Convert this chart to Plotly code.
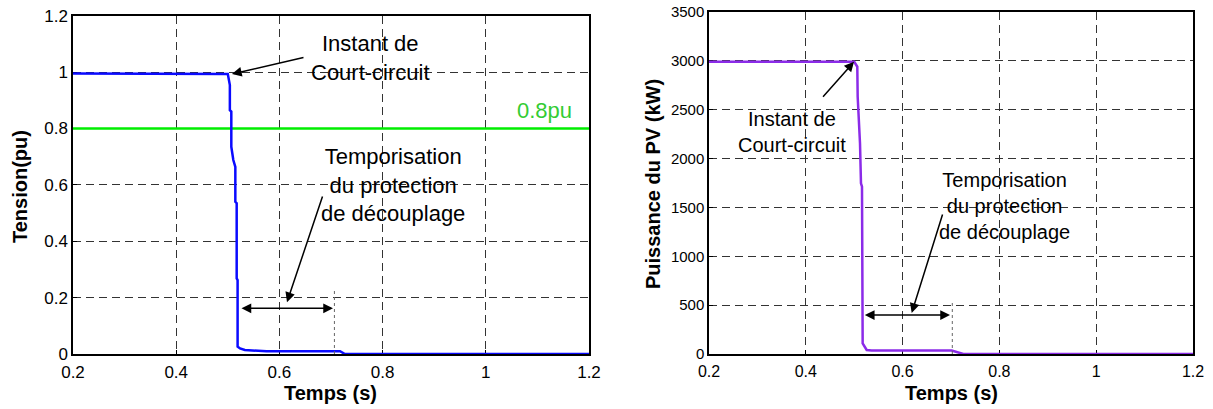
import plotly.graph_objects as go

# ---- data ----
t_v = [0.2, 0.5, 0.504, 0.504, 0.5068, 0.5068, 0.5107, 0.5146, 0.5146, 0.5172, 0.5172,
       0.519, 0.519, 0.5236, 0.533, 0.575, 0.7175, 0.727, 1.2]
tension = [0.995, 0.993, 0.954, 0.865, 0.86, 0.735, 0.688, 0.664, 0.54, 0.535, 0.268,
           0.262, 0.026, 0.020, 0.014, 0.010, 0.010, 0.0, 0.0]

seuil_t = [0.2, 1.2]
seuil_v = [0.8, 0.8]

t_p = [0.2, 0.5, 0.5064, 0.5072, 0.512, 0.514, 0.5161, 0.5175, 0.5258, 0.536,
       0.7014, 0.71, 0.7255, 1.2]
puissance = [2990, 2990, 2940, 2632, 2155, 1746, 1712, 109, 41, 35,
             35, 20, 0, 0]

x_ticks = [0.2, 0.4, 0.6, 0.8, 1.0, 1.2]
x_ticklabels = ["0.2", "0.4", "0.6", "0.8", "1", "1.2"]
v_ticks = [0, 0.2, 0.4, 0.6, 0.8, 1.0, 1.2]
v_ticklabels = ["0", "0.2", "0.4", "0.6", "0.8", "1", "1.2"]
p_ticks = [0, 500, 1000, 1500, 2000, 2500, 3000, 3500]
p_ticklabels = [str(v) for v in p_ticks]

W, H = 1213, 409
FONT = "Arial, Liberation Sans, sans-serif"

def px_x(p):
    return p / W

def px_y(p):
    return 1 - p / H

fig = go.Figure()
fig.add_trace(go.Scatter(x=seuil_t, y=seuil_v, mode="lines", line=dict(color="#00ee00", width=2.5),
                         xaxis="x", yaxis="y", showlegend=False))
fig.add_trace(go.Scatter(x=t_v, y=tension, mode="lines", line=dict(color="#0a0aff", width=2.5),
                         xaxis="x", yaxis="y", showlegend=False))
fig.add_trace(go.Scatter(x=t_p, y=puissance, mode="lines", line=dict(color="#8b2be8", width=2.5),
                         xaxis="x2", yaxis="y2", showlegend=False))

axcommon = dict(showline=True, mirror=True, linecolor="black", linewidth=1.5,
                showgrid=True, gridcolor="#333", gridwidth=1, griddash="8px,5px",
                zeroline=False, ticks="inside", ticklen=4, tickcolor="black",
                layer="below traces", automargin=False)

fig.update_layout(
    width=W, height=H, margin=dict(l=0, r=0, t=0, b=0, autoexpand=False),
    paper_bgcolor="white", plot_bgcolor="white",
    font=dict(family=FONT, color="black"),
    xaxis=dict(domain=[px_x(73), px_x(589)], range=[0.2, 1.2], tickvals=x_ticks,
               ticktext=x_ticklabels, tickfont=dict(size=17), anchor="y",
               ticklabelstandoff=2, **axcommon),
    yaxis=dict(domain=[px_y(354), px_y(15.7)], range=[0, 1.2], tickvals=v_ticks,
               ticktext=v_ticklabels, tickfont=dict(size=17), anchor="x", **axcommon),
    xaxis2=dict(domain=[px_x(709), px_x(1193)], range=[0.2, 1.2], tickvals=x_ticks,
                ticktext=x_ticklabels, tickfont=dict(size=16), anchor="y2",
                ticklabelstandoff=2, **axcommon),
    yaxis2=dict(domain=[px_y(354), px_y(12)], range=[0, 3500], tickvals=p_ticks,
                ticktext=p_ticklabels, tickfont=dict(size=15), anchor="x2", **axcommon),
)

ann = []
# axis titles
ann.append(dict(text="<b>Temps (s)</b>", x=px_x(331), y=px_y(393), xref="paper", yref="paper",
                showarrow=False, font=dict(size=20), xanchor="center", yanchor="middle"))
ann.append(dict(text="<b>Temps (s)</b>", x=px_x(951), y=px_y(393), xref="paper", yref="paper",
                showarrow=False, font=dict(size=20), xanchor="center", yanchor="middle"))
ann.append(dict(text="<b>Tension(pu)</b>", x=px_x(20), y=px_y(187), xref="paper", yref="paper",
                showarrow=False, font=dict(size=20), textangle=-90, xanchor="center", yanchor="middle"))
ann.append(dict(text="<b>Puissance du PV (kW)</b>", x=px_x(653), y=px_y(184), xref="paper", yref="paper",
                showarrow=False, font=dict(size=20), textangle=-90, xanchor="center", yanchor="middle"))

# left texts
ann.append(dict(text="Instant de<br>Court-circuit", x=0.7775, y=1.05, xref="x", yref="y",
                showarrow=False, font=dict(size=22), xanchor="center", yanchor="middle"))
ann.append(dict(text="Temporisation<br>du protection<br>de découplage", x=0.82, y=0.599, xref="x", yref="y",
                showarrow=False, font=dict(size=22), xanchor="center", yanchor="middle"))
ann.append(dict(text="0.8pu", x=1.113, y=0.865, xref="x", yref="y",
                showarrow=False, font=dict(size=22, color="#33cc33"), xanchor="center", yanchor="middle"))
# left arrows
arrow = dict(showarrow=True, text="", arrowhead=2, arrowsize=1.3, arrowwidth=1.5,
             arrowcolor="black", standoff=0, startstandoff=0)
ann.append(dict(x=0.508, y=0.993, ax=0.6496, ay=1.053, xref="x", yref="y", axref="x", ayref="y", **arrow))
ann.append(dict(x=0.6147, y=0.184, ax=0.6845, ay=0.564, xref="x", yref="y", axref="x", ayref="y", **arrow))
ann.append(dict(x=0.7039, y=0.162, ax=0.5236, ay=0.162, xref="x", yref="y", axref="x", ayref="y",
                arrowside="end+start", startarrowhead=2, startarrowsize=1.3, **arrow))

# right texts
ann.append(dict(text="Instant de<br>Court-circuit", x=0.3715, y=2277, xref="x2", yref="y2",
                showarrow=False, font=dict(size=20), xanchor="center", yanchor="middle"))
ann.append(dict(text="Temporisation<br>du protection<br>de découplage", x=0.8095, y=1515, xref="x2", yref="y2",
                showarrow=False, font=dict(size=20), xanchor="center", yanchor="middle"))
ann.append(dict(x=0.4996, y=2991, ax=0.4329, ay=2617, xref="x2", yref="y2", axref="x2", ayref="y2", **arrow))
ann.append(dict(x=0.6188, y=420, ax=0.6835, ay=1443, xref="x2", yref="y2", axref="x2", ayref="y2", **arrow))
ann.append(dict(x=0.698, y=399, ax=0.5188, ay=399, xref="x2", yref="y2", axref="x2", ayref="y2",
                arrowside="end+start", startarrowhead=2, startarrowsize=1.3, **arrow))

fig.update_layout(annotations=ann)

# dotted markers at end of delay
fig.add_shape(type="line", x0=0.7066, x1=0.7066, y0=0, y1=0.224, xref="x", yref="y",
              line=dict(color="#666", width=1, dash="dot"))
fig.add_shape(type="line", x0=0.7027, x1=0.7027, y0=0, y1=535, xref="x2", yref="y2",
              line=dict(color="#666", width=1, dash="dot"))

fig.write_html("out.html", config={"displayModeBar": False},
               post_script="document.body.style.margin='0px';")
